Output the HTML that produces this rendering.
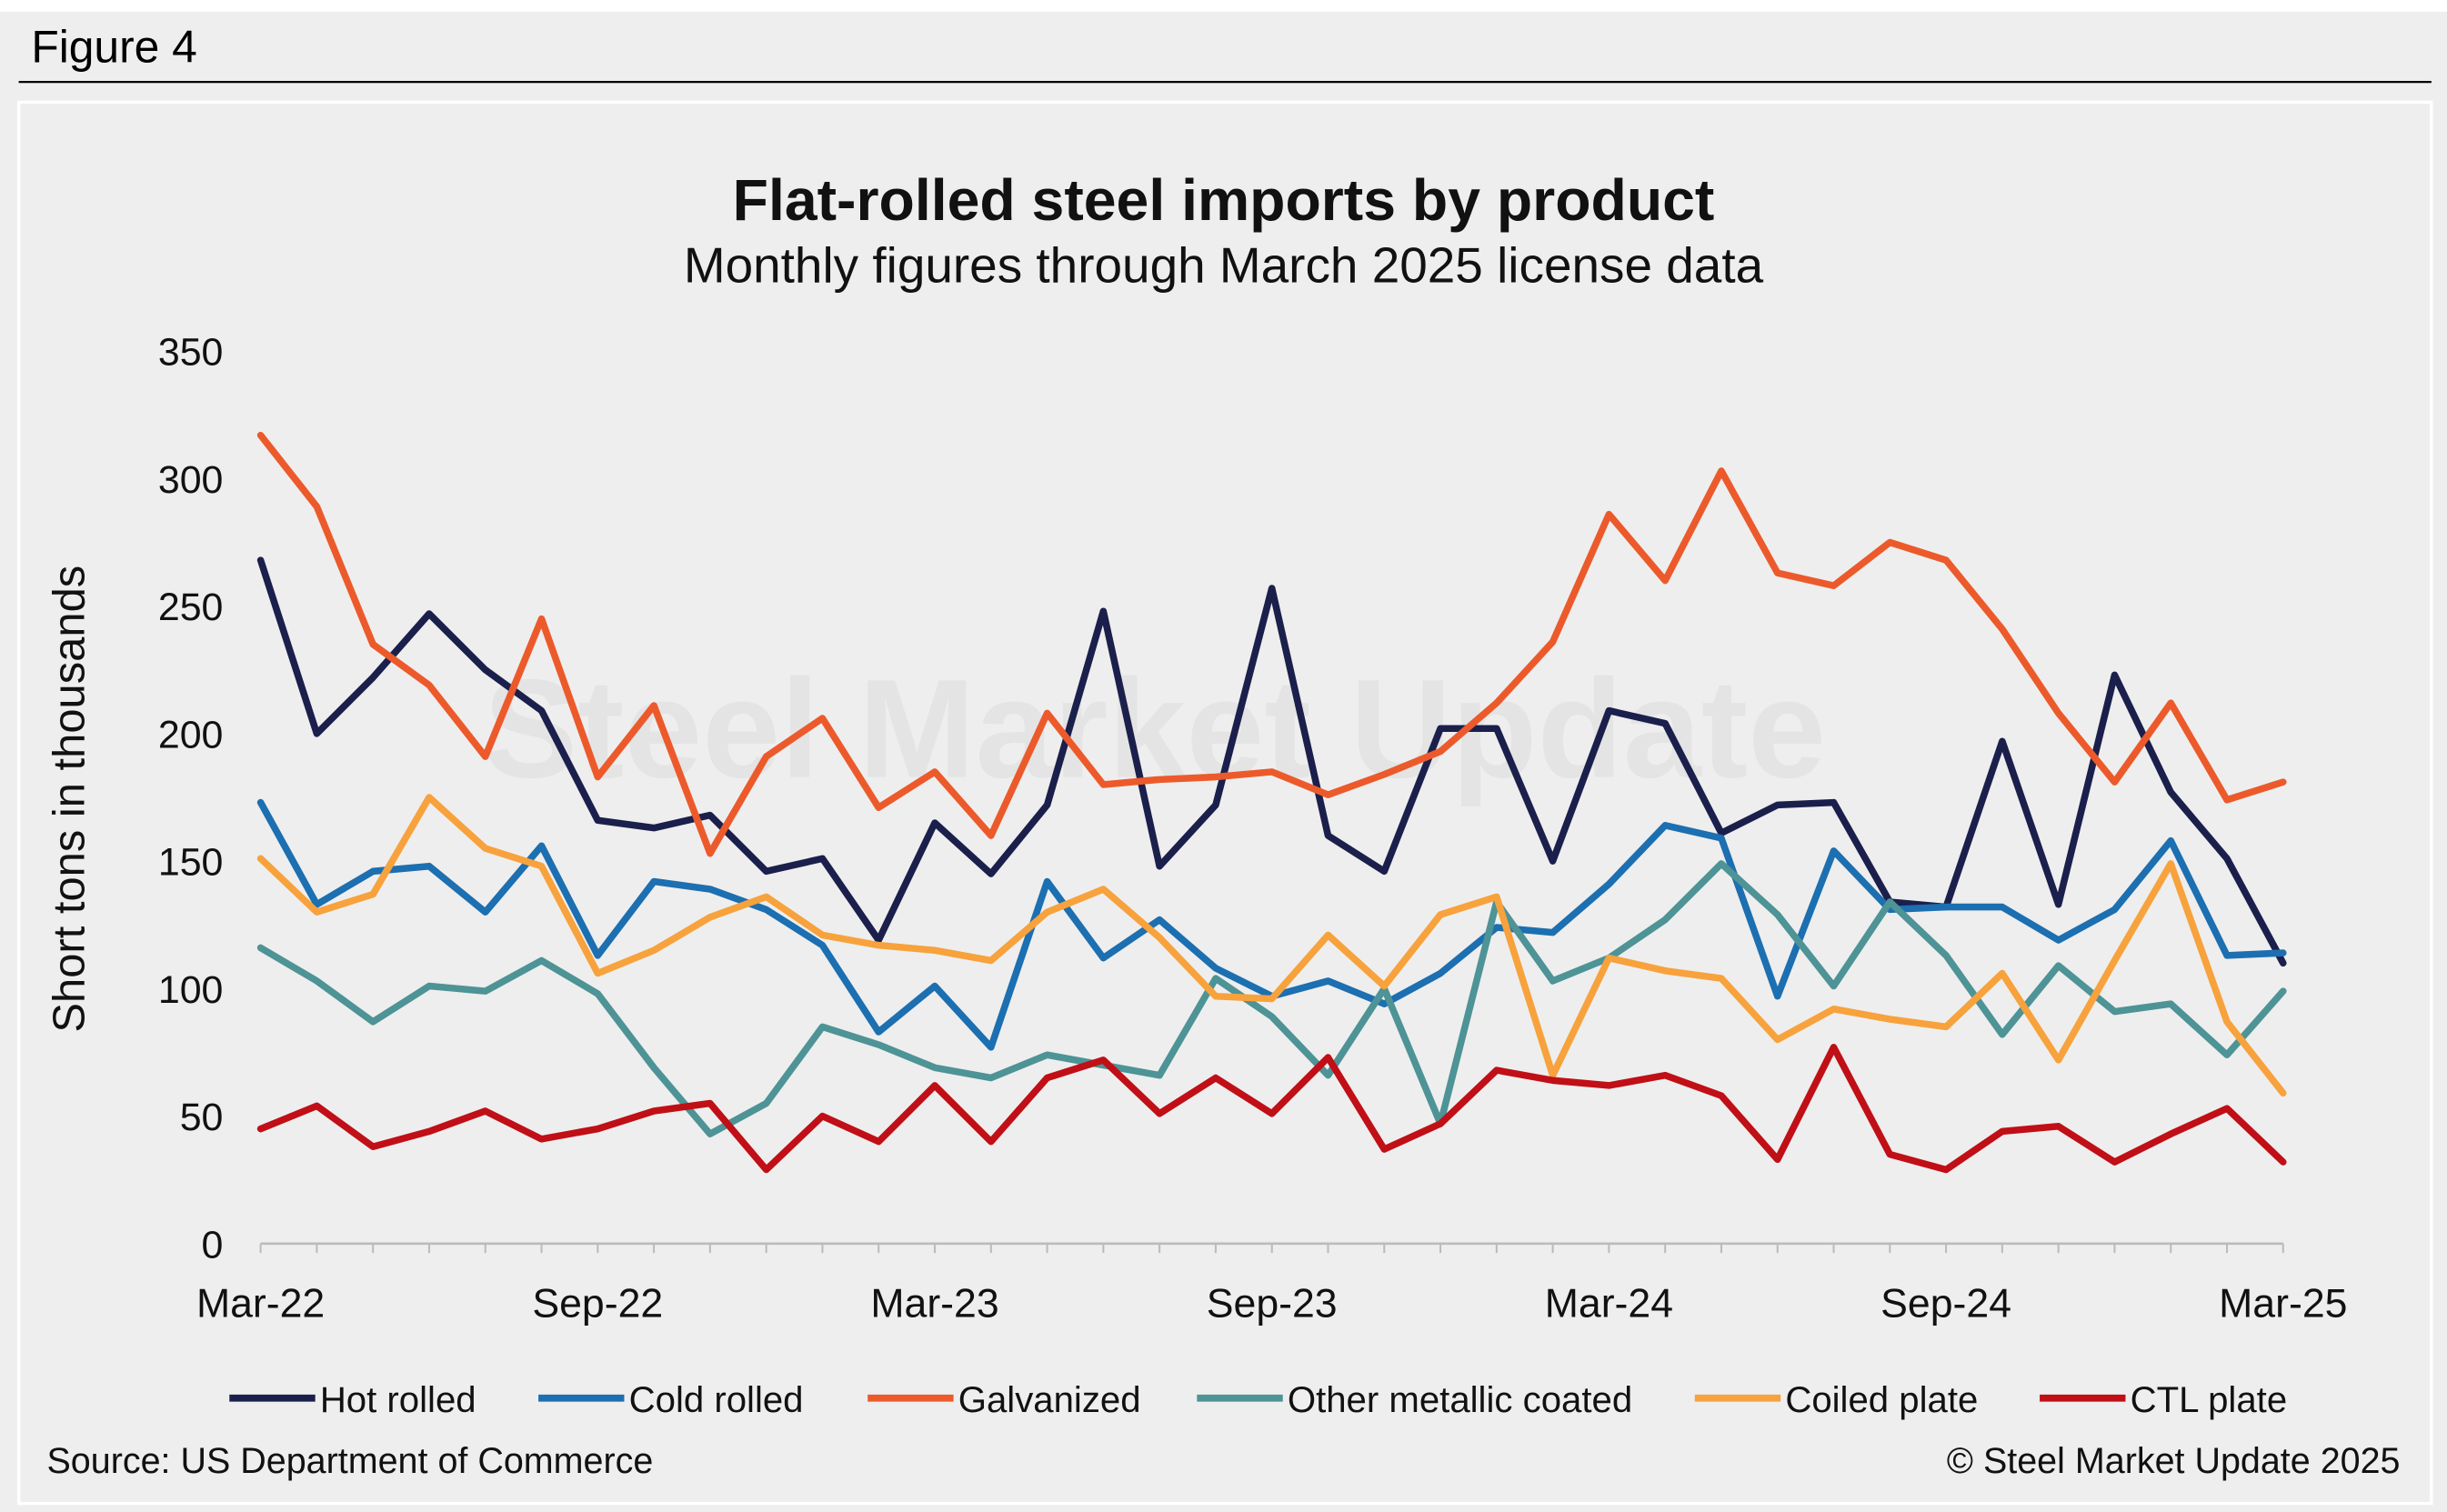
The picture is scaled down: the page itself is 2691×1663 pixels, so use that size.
<!DOCTYPE html>
<html><head><meta charset="utf-8"><style>
html,body{margin:0;padding:0;background:#fff}
svg{display:block;font-family:"Liberation Sans",Arial,sans-serif}
</style></head><body>
<svg id="chart" width="2691" height="1663" viewBox="0 0 1568 969">
<rect x="0" y="7.5" width="1568" height="962" fill="#eeeeee"/>
<text x="20" y="40" font-size="29" fill="#000">Figure 4</text>
<line x1="12" y1="52.5" x2="1558" y2="52.5" stroke="#000" stroke-width="1.3"/>
<rect x="12" y="65.5" width="1546" height="898" fill="#eeeeee" stroke="#fff" stroke-width="2"/>
<text x="740" y="498" font-size="90" font-weight="bold" fill="#e4e4e4" text-anchor="middle">Steel Market Update</text>
<text x="784" y="141" font-size="37.5" font-weight="bold" text-anchor="middle" fill="#111">Flat-rolled steel imports by product</text>
<text x="784" y="181" font-size="32" text-anchor="middle" fill="#111">Monthly figures through March 2025 license data</text>
<text transform="translate(54,512) rotate(-90)" font-size="28.5" text-anchor="middle" fill="#111">Short tons in thousands</text>
<g id="yticks"></g><g id="xaxis"></g><g id="series"></g><g id="legend"></g>
<text x="30" y="944" font-size="23" fill="#111">Source: US Department of Commerce</text>
<text x="1538" y="944" font-size="23" fill="#111" text-anchor="end">© Steel Market Update 2025</text>
</svg>
<script>
const yTicks=[0,50,100,150,200,250,300,350];
const xLabels=["Mar-22","Sep-22","Mar-23","Sep-23","Mar-24","Sep-24","Mar-25"];
const seriesNames=["Hot rolled","Cold rolled","Galvanized","Other metallic coated","Coiled plate","CTL plate"];
const hotRolled=[268,200,222,247,225,209,166,163,168,146,151,119,165,145,172,248,148,172,257,160,146,202,202,150,209,204,161,172,173,134,132,197,133,223,177,151,110];
const coldRolled=[173,133,146,148,130,156,113,142,139,131,117,83,101,77,142,112,127,108,97,103,94,106,124,122,141,164,159,97,154,131,132,132,119,131,158,113,114];
const galvanized=[317,289,235,219,191,245,183,211,153,191,206,171,185,160,208,180,182,183,185,176,184,193,212,236,286,260,303,263,258,275,268,241,208,181,212,174,181];
const otherCoated=[116,103,87,101,99,111,98,69,43,55,85,78,69,65,74,70,66,104,89,66,100,47,134,103,112,127,149,129,101,134,113,82,109,91,94,74,99];
const coiledPlate=[151,130,137,175,155,148,106,115,128,136,121,117,115,111,130,139,120,97,96,121,101,129,136,66,112,107,104,80,92,88,85,106,72,111,149,87,59];
const ctlPlate=[45,54,38,44,52,41,45,52,55,29,50,40,62,40,65,72,51,65,51,73,37,47,68,64,62,66,58,33,77,35,29,44,46,32,43,53,32];
const NS="http://www.w3.org/2000/svg";
const colors=["#1b1f4b","#1c6fb0","#ec5a2b","#4e9396","#f7a23c","#c00f16"];
const data=[hotRolled,coldRolled,galvanized,otherCoated,coiledPlate,ctlPlate];
const x0=167,x1=1463,y0=797,y1=225;
const xs=i=>x0+(x1-x0)*i/(hotRolled.length-1);
const ys=v=>y0-(y0-y1)*v/350;
function mk(t,a,p){const e=document.createElementNS(NS,t);for(const k in a)e.setAttribute(k,a[k]);p.appendChild(e);return e;}
const yg=document.getElementById('yticks');
yTicks.forEach(v=>{const t=mk('text',{x:143,y:ys(v)+9,'font-size':25,'text-anchor':'end',fill:'#111'},yg);


t.textContent=v;});
const xg=document.getElementById('xaxis');
const ax=mk('line',{x1:x0,y1:y0,x2:x1,y2:y0,stroke:'#bbb','stroke-width':1.5},xg);


for(let i=0;i<hotRolled.length;i++){const tk=mk('line',{x1:xs(i),y1:y0,x2:xs(i),y2:y0+6,stroke:'#bbb','stroke-width':1.2},xg);

}
xLabels.forEach((l,k)=>{const t=mk('text',{x:xs(k*6),y:844,'font-size':26,'text-anchor':'middle',fill:'#111'},xg);


t.textContent=l;});
const sg=document.getElementById('series');
data.forEach((d,s)=>{const p=mk('polyline',{points:d.map((v,i)=>xs(i)+','+ys(v)).join(' '),fill:'none',stroke:colors[s],'stroke-width':4.4,'stroke-linejoin':'round','stroke-linecap':'round'},sg);

});
const lg=document.getElementById('legend');
const lx=[147,345,556,767,1086,1307];
seriesNames.forEach((n,s)=>{const g=mk('g',{},lg);


mk('line',{x1:lx[s],y1:896,x2:lx[s]+55,y2:896,stroke:colors[s],'stroke-width':4.5},g);
const t=mk('text',{x:lx[s]+58,y:905,'font-size':23.4,fill:'#111'},g);t.textContent=n;});
</script>
</body></html>
